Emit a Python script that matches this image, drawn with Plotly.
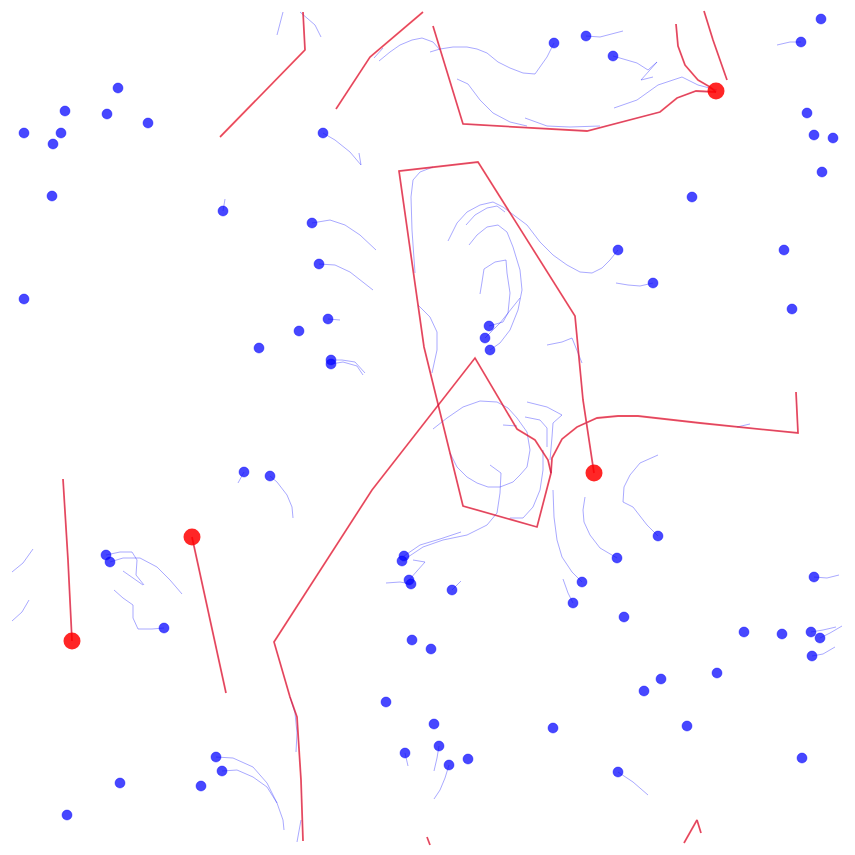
import plotly.graph_objects as go

# ---- data (pixel-like units, y downward) ----
prey_x = [118, 65, 107, 148, 24, 61, 53, 52, 223, 24, 323,
          312, 319, 328, 299, 259, 331, 331,
          554, 586, 613,
          821, 801, 807, 814, 833, 822, 692, 618, 653, 784, 792,
          489, 485, 490,
          244, 270, 106, 110, 164, 216, 222, 120, 201, 67,
          404, 402, 409, 411, 452, 412, 431, 386, 434, 405, 439, 449, 468, 553, 617, 582, 573, 658, 624,
          814, 744, 782, 811, 820, 812, 717, 661, 644, 687, 802, 618]
prey_y = [88, 111, 114, 123, 133, 133, 144, 196, 211, 299, 133,
          223, 264, 319, 331, 348, 360, 364,
          43, 36, 56,
          19, 42, 113, 135, 138, 172, 197, 250, 283, 250, 309,
          326, 338, 350,
          472, 476, 555, 562, 628, 757, 771, 783, 786, 815,
          556, 561, 580, 584, 590, 640, 649, 702, 724, 753, 746, 765, 759, 728, 558, 582, 603, 536, 617,
          577, 632, 634, 632, 638, 656, 673, 679, 691, 726, 758, 772]

prey_trails = [
    [(223, 211), (225, 199)],
    [(323, 133), (335, 140), (350, 152), (361, 165)],
    [(359, 153), (361, 165)],
    [(312, 223), (330, 220), (345, 225), (360, 235), (376, 250)],
    [(319, 264), (335, 265), (350, 272), (363, 282), (373, 290)],
    [(328, 319), (340, 320)],
    [(331, 360), (342, 360), (355, 362), (365, 373)],
    [(331, 364), (343, 362), (357, 366), (363, 375)],
    [(554, 43), (547, 57), (535, 74), (523, 73), (510, 68), (498, 62), (487, 53), (477, 49),
     (467, 47), (453, 47), (440, 49), (430, 52)],
    [(586, 36), (600, 37), (623, 31)],
    [(613, 56), (637, 63), (648, 70), (657, 62), (641, 80), (653, 77)],
    [(801, 42), (790, 42), (777, 45)],
    [(618, 250), (610, 260), (602, 268), (592, 273), (580, 272), (567, 265), (553, 255), (540, 242),
     (527, 225), (513, 215), (503, 207), (493, 202), (480, 205), (467, 212), (457, 223), (448, 241)],
    [(653, 283), (640, 286), (628, 285), (616, 283)],
    [(490, 350), (500, 343), (510, 330), (518, 310), (522, 290), (520, 270), (513, 247), (507, 232),
     (498, 225), (487, 227), (477, 235), (469, 245)],
    [(489, 326), (503, 322), (508, 313), (510, 293), (507, 273), (506, 260), (495, 262), (484, 269),
     (482, 282), (480, 294)],
    [(485, 338), (500, 323), (512, 308), (520, 298)],
    [(404, 556), (420, 545), (440, 539), (461, 532)],
    [(402, 561), (423, 547), (443, 540), (467, 535), (487, 525), (497, 513), (500, 493), (501, 473),
     (490, 465)],
    [(617, 558), (600, 548), (590, 535), (584, 522), (583, 510), (585, 497)],
    [(582, 582), (572, 572), (562, 557), (557, 540), (554, 517), (553, 490)],
    [(573, 603), (568, 593), (563, 579)],
    [(658, 536), (647, 525), (633, 507), (623, 502), (624, 487), (630, 475), (640, 463), (658, 455)],
    [(814, 577), (827, 578), (839, 575)],
    [(811, 632), (823, 630), (836, 627)],
    [(820, 638), (830, 633), (842, 626)],
    [(812, 656), (823, 654), (835, 647)],
    [(618, 772), (633, 782), (648, 795)],
    [(405, 753), (408, 766)],
    [(439, 746), (437, 758), (434, 771)],
    [(449, 765), (445, 778), (440, 790), (434, 799)],
    [(452, 590), (461, 581)],
    [(409, 580), (415, 573), (425, 562), (413, 560)],
    [(411, 584), (400, 582), (386, 583)],
    [(244, 472), (238, 483)],
    [(270, 476), (277, 482), (287, 495), (292, 507), (293, 518)],
    [(106, 555), (120, 552), (132, 552), (137, 560), (136, 575), (144, 585)],
    [(110, 562), (123, 558), (140, 558), (157, 567), (170, 580), (182, 594)],
    [(164, 628), (152, 629), (138, 629), (133, 618), (133, 605), (123, 598), (114, 590)],
    [(216, 757), (233, 758), (253, 767), (267, 783), (277, 803), (283, 820), (284, 830)],
    [(222, 771), (237, 770), (253, 777), (267, 787), (277, 803)],
    # trails whose heads wrapped to the other side
    [(379, 61), (390, 52), (400, 45), (412, 40), (422, 38), (433, 42), (440, 50)],
    [(374, 58), (383, 48)],
    [(457, 79), (468, 84), (480, 100), (493, 113), (510, 122), (527, 126)],
    [(525, 118), (547, 126), (570, 127), (600, 126)],
    [(614, 108), (637, 100), (658, 85), (682, 77), (698, 85), (717, 90)],
    [(466, 225), (475, 215), (487, 208), (497, 206), (505, 212)],
    [(433, 167), (420, 172), (413, 180), (411, 197), (412, 230), (415, 273)],
    [(418, 305), (430, 317), (437, 332), (437, 350), (432, 373)],
    [(547, 345), (562, 342), (572, 338), (577, 350), (582, 363)],
    [(433, 429), (447, 418), (463, 407), (480, 401), (497, 402), (508, 408), (517, 418), (527, 432),
     (530, 450), (527, 467), (520, 475), (513, 482), (500, 487), (488, 487), (477, 483), (467, 477),
     (457, 467), (450, 453)],
    [(527, 402), (547, 407), (562, 415), (553, 423), (552, 437), (550, 460)],
    [(525, 417), (540, 420), (547, 428), (547, 447)],
    [(503, 425), (517, 426)],
    [(543, 450), (543, 470), (540, 490), (533, 507), (523, 518), (510, 518)],
    [(737, 427), (750, 424)],
    [(12, 572), (23, 563), (33, 549)],
    [(12, 621), (22, 612), (29, 600)],
    [(290, 697), (295, 713), (297, 733), (296, 752)],
    [(297, 842), (301, 820)],
    [(283, 12), (280, 25), (277, 35)],
    [(300, 12), (315, 25), (321, 37)],
    [(123, 571), (133, 578), (143, 585)],
]

predator_x = [716, 594, 192, 72]
predator_y = [91, 473, 537, 641]

predator_trails = [
    [(72, 641), (68, 560), (63, 479)],
    [(192, 537), (209, 615), (226, 693)],
    [(594, 473), (583, 400), (575, 316), (478, 162), (399, 171), (424, 347), (437, 400), (463, 506),
     (537, 527), (551, 473), (552, 458), (562, 439), (577, 427), (597, 418), (618, 416), (638, 416),
     (700, 423), (757, 429), (798, 433), (796, 392)],
    [(220, 137), (305, 50), (303, 12)],
    [(303, 841), (301, 780), (297, 717), (290, 697), (274, 642), (372, 490), (475, 358), (517, 429),
     (535, 440), (548, 460), (551, 473)],
    [(716, 92), (696, 91), (677, 98), (660, 112), (587, 131), (463, 124), (433, 26)],
    [(423, 12), (370, 57), (336, 109)],
    [(427, 837), (430, 845)],
    [(716, 92), (710, 87), (698, 80), (685, 65), (678, 46), (676, 24)],
    [(684, 843), (697, 820), (701, 833)],
    [(704, 11), (713, 40), (720, 60), (727, 80)],
]


def joined(trails):
    xs, ys = [], []
    for tr in trails:
        for (a, b) in tr:
            xs.append(a)
            ys.append(b)
        xs.append(None)
        ys.append(None)
    return xs, ys


fig = go.Figure()

bx, by = joined(prey_trails)
fig.add_trace(go.Scatter(x=bx, y=by, mode="lines",
                         line=dict(color="rgba(40,40,255,0.4)", width=1),
                         hoverinfo="skip"))

rx, ry = joined(predator_trails)
fig.add_trace(go.Scatter(x=rx, y=ry, mode="lines",
                         line=dict(color="rgba(255,30,30,0.72)", width=1.8),
                         hoverinfo="skip"))
fig.add_trace(go.Scatter(x=rx, y=ry, mode="lines",
                         line=dict(color="rgba(100,0,140,0.28)", width=1),
                         hoverinfo="skip"))

fig.add_trace(go.Scatter(x=prey_x, y=prey_y, mode="markers",
                         marker=dict(size=10, color="rgba(10,10,255,0.75)",
                                     line=dict(color="rgba(0,0,255,0.4)", width=1))))
fig.add_trace(go.Scatter(x=predator_x, y=predator_y, mode="markers",
                         marker=dict(size=17, color="rgba(255,0,0,0.85)",
                                     line=dict(width=0))))

fig.update_layout(
    width=855, height=855,
    margin=dict(l=0, r=0, t=0, b=0),
    paper_bgcolor="white", plot_bgcolor="white",
    showlegend=False,
    xaxis=dict(range=[0, 855], visible=False, showgrid=False, zeroline=False),
    yaxis=dict(range=[855, 0], visible=False, showgrid=False, zeroline=False),
)

fig.write_html("out.html")
